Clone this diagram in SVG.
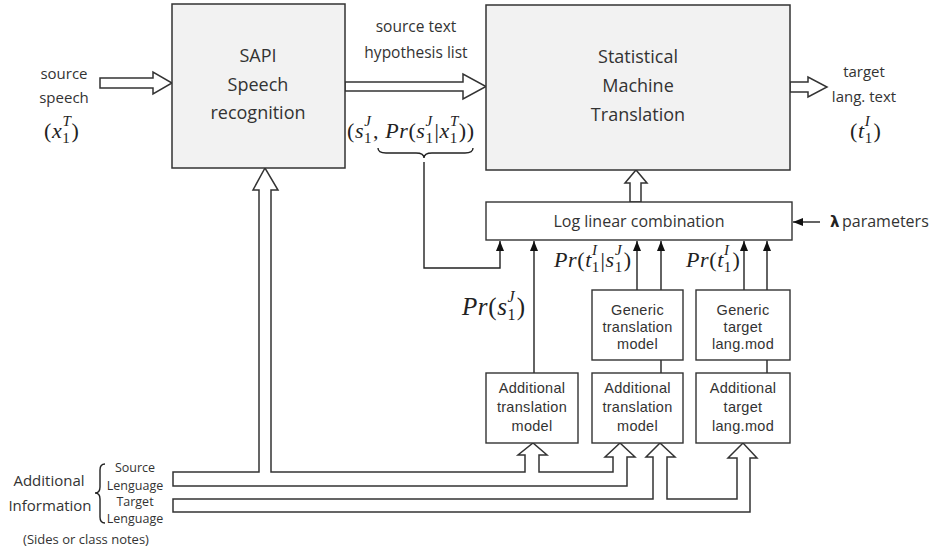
<svg xmlns="http://www.w3.org/2000/svg" width="934" height="551" viewBox="0 0 934 551">
<style>
.t{font-family:"Open Sans","Liberation Sans",sans-serif;fill:#333;text-anchor:middle}
.a{font-family:"Liberation Sans",Arial,sans-serif;fill:#333;text-anchor:middle;font-size:14.5px;letter-spacing:0.3px}
.m{font-family:"Liberation Serif","DejaVu Serif",serif;fill:#222;letter-spacing:0.6px}
.i{font-style:italic}
.s{font-size:15px}
.big{fill:#f2f2f2;stroke:#333;stroke-width:1.5}
.box{fill:#fff;stroke:#333;stroke-width:1.4}
.hol{fill:#fff;stroke:#333;stroke-width:1.5;stroke-linejoin:miter}
.ln{fill:none;stroke:#222;stroke-width:1.4}
</style>
<defs>
<marker id="ah" markerUnits="userSpaceOnUse" markerWidth="10" markerHeight="8" refX="10" refY="4" orient="auto">
<path d="M0,0 L10,4 L0,8 z" fill="#111"/>
</marker>
</defs>
<rect width="934" height="551" fill="#fff"/>

<g id="connectors">
<polygon class="hol" points="100,78 153,78 153,72 172,83 153,94 153,88 100,88"/>
<polygon class="hol" points="345,82 463,82 463,74 486,86.5 463,99 463,91 345,91"/>
<polygon class="hol" points="790,82 808,82 808,77 827,87 808,97 808,92 790,92"/>
<polygon class="hol" points="630,202 630,183 625,183 636,170 647,183 641,183 641,202"/>
<polygon class="hol" points="173,472 259,472 259,190 253,190 265,168 278,190 271,190 271,472 525,472 525,455 518,455 533,443 547,455 539,455 539,472 613,472 613,457 605,457 620,443 635,457 627,457 627,486 173,486"/>
<polygon class="hol" points="173,499 653,499 653,457 646,457 660,443 675,457 667,457 667,499 737,499 737,458 728,458 743,443 757,458 750,458 750,512 173,512"/>
<path class="ln" d="M378,148 q0,5 8,5 H416 q8,0 8,5 q0,-5 8,-5 H465 q8,0 8,-5"/>
<path class="ln" d="M424,162 V268 H500 V241" marker-end="url(#ah)"/>
<path class="ln" d="M534,373 V241" marker-end="url(#ah)"/>
<path class="ln" d="M637,290 V241" marker-end="url(#ah)"/>
<path class="ln" d="M661,290 V241" marker-end="url(#ah)"/>
<path class="ln" d="M661,360 V373"/>
<path class="ln" d="M744,290 V241" marker-end="url(#ah)"/>
<path class="ln" d="M767,290 V241" marker-end="url(#ah)"/>
<path class="ln" d="M767,360 V373"/>
<path class="ln" d="M820,222 H793" marker-end="url(#ah)"/>
<path class="ln" d="M105,464 q-5,0 -5,6 V487 q0,6 -5,6 q5,0 5,6 V517 q0,6 5,6"/>
</g>

<g id="sapi">
<rect class="big" x="172" y="4" width="173" height="164"/>
<text class="t" font-size="18" x="258" y="62">SAPI</text>
<text class="t" font-size="18" x="258" y="91">Speech</text>
<text class="t" font-size="18" x="258" y="119">recognition</text>
</g>

<g id="smt">
<rect class="big" x="486" y="5" width="304" height="165"/>
<text class="t" font-size="18" x="638" y="63">Statistical</text>
<text class="t" font-size="18" x="638" y="92">Machine</text>
<text class="t" font-size="18" x="638" y="121">Translation</text>
</g>

<g id="loglinear">
<rect class="box" x="486" y="202" width="306" height="38"/>
<text class="t" font-size="16" x="639" y="227">Log linear combination</text>
</g>

<g id="generic-tm">
<rect class="box" x="592" y="290" width="91" height="70"/>
<text class="a" x="637.5" y="315">Generic</text>
<text class="a" x="637.5" y="332">translation</text>
<text class="a" x="637.5" y="349">model</text>
</g>

<g id="generic-lm">
<rect class="box" x="696" y="290" width="94" height="70"/>
<text class="a" x="743" y="315">Generic</text>
<text class="a" x="743" y="332">target</text>
<text class="a" x="743" y="349">lang.mod</text>
</g>

<g id="add-tm1">
<rect class="box" x="486" y="373" width="92" height="70"/>
<text class="a" x="532" y="393">Additional</text>
<text class="a" x="532" y="412">translation</text>
<text class="a" x="532" y="431">model</text>
</g>

<g id="add-tm2">
<rect class="box" x="592" y="373" width="91" height="70"/>
<text class="a" x="637.5" y="393">Additional</text>
<text class="a" x="637.5" y="412">translation</text>
<text class="a" x="637.5" y="431">model</text>
</g>

<g id="add-lm">
<rect class="box" x="696" y="373" width="94" height="70"/>
<text class="a" x="743" y="393">Additional</text>
<text class="a" x="743" y="412">target</text>
<text class="a" x="743" y="431">lang.mod</text>
</g>

<g id="labels">
<text class="t" font-size="15" x="64" y="79">source</text>
<text class="t" font-size="15" x="64" y="103">speech</text>
<text class="m" font-size="22" x="44" y="138">(<tspan class="i">x</tspan><tspan class="s" dy="5">1</tspan><tspan class="i s" dx="-8" dy="-17">T</tspan><tspan dy="12">)</tspan></text>

<text class="t" font-size="15.5" x="416" y="32">source text</text>
<text class="t" font-size="15.5" x="416" y="58">hypothesis list</text>
<text class="m" font-size="22" x="347" y="138">(<tspan class="i">s</tspan><tspan class="s" dy="5">1</tspan><tspan class="i s" dx="-8" dy="-17">J</tspan><tspan dx="1.5" dy="12">, </tspan><tspan class="i">Pr</tspan>(<tspan class="i">s</tspan><tspan class="s" dy="5">1</tspan><tspan class="i s" dx="-8" dy="-17">J</tspan><tspan dx="1.5" dy="12">|</tspan><tspan class="i">x</tspan><tspan class="s" dy="5">1</tspan><tspan class="i s" dx="-8" dy="-17">T</tspan><tspan dy="12">))</tspan></text>

<text class="t" font-size="15" x="864" y="77">target</text>
<text class="t" font-size="15" x="864" y="102">lang. text</text>
<text class="m" font-size="22" x="850" y="138">(<tspan class="i">t</tspan><tspan class="s" dy="5">1</tspan><tspan class="i s" dx="-8" dy="-17">I</tspan><tspan dx="3" dy="12">)</tspan></text>

<text class="m" font-size="25" x="462" y="315"><tspan class="i">Pr</tspan>(<tspan class="i">s</tspan><tspan font-size="16" dy="5">1</tspan><tspan class="i" font-size="16" dx="-8.6" dy="-18">J</tspan><tspan dx="1.5" dy="13">)</tspan></text>
<text class="m" font-size="22" x="554" y="267"><tspan class="i">Pr</tspan>(<tspan class="i">t</tspan><tspan class="s" dy="5">1</tspan><tspan class="i s" dx="-8" dy="-17">I</tspan><tspan dx="3" dy="12">|</tspan><tspan class="i">s</tspan><tspan class="s" dy="5">1</tspan><tspan class="i s" dx="-8" dy="-17">J</tspan><tspan dx="1.5" dy="12">)</tspan></text>
<text class="m" font-size="22" x="686" y="267"><tspan class="i">Pr</tspan>(<tspan class="i">t</tspan><tspan class="s" dy="5">1</tspan><tspan class="i s" dx="-8" dy="-17">I</tspan><tspan dx="3" dy="12">)</tspan></text>

<text x="830" y="227" font-family="'DejaVu Sans',sans-serif" font-weight="bold" font-size="15" fill="#222">λ</text>
<text x="842" y="227" font-family="'Open Sans','Liberation Sans',sans-serif" font-size="16" fill="#333">parameters</text>

<text class="t" font-size="15" x="49" y="486">Additional</text>
<text class="t" font-size="15" x="50" y="511">Information</text>
<text class="t" font-size="12.5" x="135" y="472">Source</text>
<text class="t" font-size="12.5" x="135" y="490">Lenguage</text>
<text class="t" font-size="12.5" x="135" y="506">Target</text>
<text class="t" font-size="12.5" x="135" y="523">Lenguage</text>
<text class="t" font-size="13" x="86" y="544">(Sides or class notes)</text>
</g>
</svg>
